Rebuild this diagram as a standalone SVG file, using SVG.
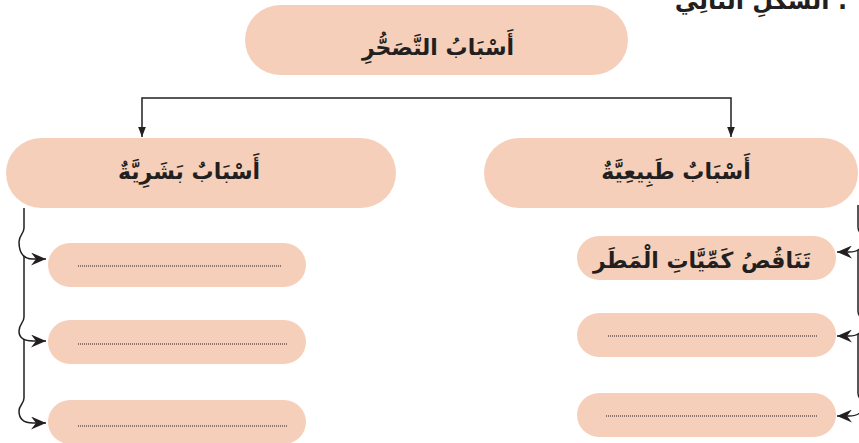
<svg xmlns="http://www.w3.org/2000/svg" width="859" height="443" viewBox="0 0 859 443">
<style>
.pill{fill:#F6CFBA}
.t{font-family:"DejaVu Sans",sans-serif;font-weight:bold;fill:#231F20;text-anchor:middle}
.c{fill:none;stroke:#231F20;stroke-width:1.5}
.dot{fill:none;stroke:#231F20;stroke-width:1;stroke-dasharray:1 1}
</style>
<defs>
<marker id="tri" markerUnits="userSpaceOnUse" markerWidth="10" markerHeight="13" refX="13" refY="5" orient="auto" viewBox="0 0 13 10">
<path d="M0,0 L13,5 L0,10 z" fill="#231F20"/>
</marker>
<marker id="stealth" markerUnits="userSpaceOnUse" markerWidth="15" markerHeight="13" refX="15" refY="6.5" orient="auto" viewBox="0 0 15 13">
<path d="M0,0 L15,6.5 L0,13 L5,6.5 z" fill="#231F20"/>
</marker>
</defs>
<text class="t" x="761" y="9" font-size="24">الشَّكْلِ التَّالِي :</text>
<g id="connectors">
<path class="c" d="M437,98 H142 V137" marker-end="url(#tri)"/>
<path class="c" d="M437,98 H731 V137" marker-end="url(#tri)"/>
<path class="c" d="M24,208 V228 C24,234 19,235 19,242 C19,252 23,259 33,259 H46" marker-end="url(#stealth)"/>
<path class="c" d="M24,256 V317 C24,323 19,324 19,331 C19,337 23,341 33,341 H46" marker-end="url(#stealth)"/>
<path class="c" d="M24,339 V398 C24,404 19,405 19,411 C19,418 23,423 33,423 H46" marker-end="url(#stealth)"/>
<path class="c" d="M858,205 V227 C858,233 863,234 863,240 C863,247 859,252 849,252 H837" marker-end="url(#stealth)"/>
<path class="c" d="M858,250 V311 C858,317 863,318 863,324 C863,331 859,336 849,336 H837" marker-end="url(#stealth)"/>
<path class="c" d="M858,334 V393 C858,399 863,400 863,405 C863,411 859,416 849,416 H837" marker-end="url(#stealth)"/>
</g>
<g id="n-top">
<rect class="pill" x="245" y="5" width="383" height="70" rx="35"/>
<text class="t" x="438" y="55" font-size="22">أَسْبَابُ التَّصَحُّرِ</text>
</g>
<g id="n-human">
<rect class="pill" x="6" y="138" width="390" height="70" rx="35"/>
<text class="t" x="189" y="179" font-size="22">أَسْبَابٌ بَشَرِيَّةٌ</text>
</g>
<g id="n-natural">
<rect class="pill" x="484" y="138" width="374" height="70" rx="35"/>
<text class="t" x="676" y="179" font-size="22">أَسْبَابٌ طَبِيعِيَّةٌ</text>
</g>
<g id="n-h1">
<rect class="pill" x="48" y="243" width="258" height="44" rx="22"/>
<line class="dot" x1="78" y1="266" x2="282" y2="266"/>
</g>
<g id="n-h2">
<rect class="pill" x="48" y="320" width="258" height="44" rx="22"/>
<line class="dot" x1="78" y1="344" x2="288" y2="344"/>
</g>
<g id="n-h3">
<rect class="pill" x="48" y="400" width="258" height="44" rx="22"/>
<line class="dot" x1="78" y1="426" x2="288" y2="426"/>
</g>
<g id="n-n1">
<rect class="pill" x="577" y="236" width="259" height="44" rx="22"/>
<text class="t" x="702" y="268" font-size="22">تَنَاقُصُ كَمِّيَّاتِ الْمَطَر</text>
</g>
<g id="n-n2">
<rect class="pill" x="577" y="313" width="259" height="44" rx="22"/>
<line class="dot" x1="608" y1="336" x2="818" y2="336"/>
</g>
<g id="n-n3">
<rect class="pill" x="577" y="393" width="259" height="44" rx="22"/>
<line class="dot" x1="606" y1="416" x2="817" y2="416"/>
</g>
</svg>
